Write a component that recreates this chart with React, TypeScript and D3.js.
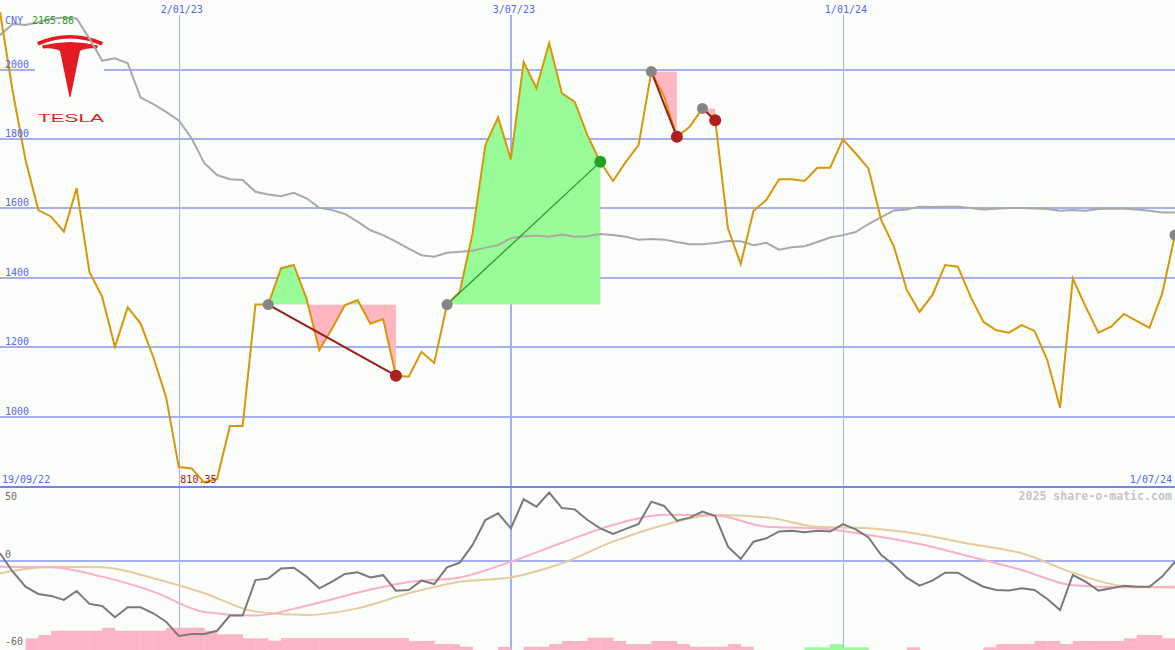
import React from "react";
import * as d3 from "d3";

const W = 1175;
const H = 650;
const startDate = new Date(2022, 8, 26);
const endDate = new Date(2024, 6, 1);

// weekly close, CNY
const price = [
  2165.86, 1936, 1739, 1595, 1576, 1533, 1658, 1417, 1345, 1201,
  1315, 1269, 1172, 1057, 855, 851, 810.35, 821, 973, 973,
  1323, 1323, 1427, 1437, 1340, 1192, 1254, 1321, 1336, 1268,
  1281, 1118, 1115, 1187, 1155, 1323, 1360, 1528, 1782, 1862,
  1741, 2022, 1946, 2077, 1931, 1907, 1810, 1734, 1679, 1734,
  1782, 1994, 1922, 1806, 1835, 1888, 1854, 1542, 1440, 1593,
  1624, 1684, 1684, 1679, 1717, 1717, 1799, 1758, 1715, 1566,
  1489, 1365, 1302, 1350, 1437, 1432, 1345, 1273, 1249, 1242,
  1264, 1247, 1163, 1026, 1398, 1317, 1242, 1259, 1296, 1276,
  1256, 1355, 1523,
];

// moving average
const avg = [
  2099, 2131, 2128, 2136, 2146, 2150, 2147, 2089, 2025, 2032,
  2018, 1920, 1900, 1878, 1853, 1802, 1730, 1696, 1684, 1682,
  1648, 1640, 1635, 1645, 1629, 1602, 1595, 1584, 1562, 1537,
  1523, 1504, 1484, 1465, 1461, 1472, 1475, 1478, 1487, 1494,
  1514, 1520, 1522, 1518, 1525, 1518, 1520, 1526, 1523, 1518,
  1510, 1512, 1510, 1503, 1497, 1497, 1500, 1506, 1505, 1494,
  1501, 1481, 1488, 1491, 1503, 1516, 1523, 1532, 1555, 1575,
  1594, 1597, 1605, 1604, 1605, 1605, 1601, 1597, 1599, 1601,
  1601, 1600, 1598, 1593, 1595, 1593, 1598, 1599, 1599, 1597,
  1593, 1588, 1588,
];

// lower panel oscillator (weekly)
const osc = [
  5.3, -7.2, -17.3, -22.2, -23.5, -26.2, -20.2, -28.9, -30.3, -37.9,
  -31.2, -31.2, -35.2, -40.9, -50.5, -49.2, -49.2, -47, -36.8, -36.8,
  -12.8, -11.7, -5, -4.5, -10.5, -18.4, -13.9, -8.7, -7.6, -11,
  -9.5, -20, -19.5, -13.2, -15.5, -4.2, -1, 10.9, 27.7, 32.2,
  22.1, 41.7, 36.7, 46.2, 35.8, 34.9, 27.7, 22.1, 18.3, 21.7,
  25, 40.1, 37.2, 27.3, 29.3, 33.4, 30.4, 9.7, 1.4, 13.1,
  15.4, 20, 20.5, 19.4, 20.5, 19.9, 25, 21.4, 16, 4.1,
  -2.6, -11.2, -16.6, -13.2, -7.8, -7.8, -12.8, -17.3, -19.5, -19.9,
  -18.4, -19.5, -25.6, -33, -9.4, -13.9, -19.9, -18.4, -16.6, -17.3,
  -17.3, -10.5, -0.4,
];

// smoothed signal lines, sampled every 4 weeks
const pinkSignal = [
  -3.8, -4.2, -10.5, -20.6, -34.3, -36.8, -30.1, -21.3, -14.1, -11,
  -0.4, 12.4, 24.4, 31.3, 30.9, 23.2, 22.1, 17.6, 11.5, 3,
  -6, -16.3, -17.7, -17.3,
];
const tanSignal = [
  -8.2, -3.8, -4.2, -11.6, -21.7, -34.1, -36.4, -31.9, -21.7, -13.9,
  -11, -1.5, 13.1, 24.4, 31.1, 29.5, 23.2, 22.1, 18.1, 11.5,
  5.3, -7.8, -16.8, -17.9,
];

// histogram (negative = pink, positive = green)
const hist = [
  0, 0, -7.9, -10.1, -13, -13, -13, -13, -15, -13,
  -13, -13, -13, -15, -15, -15, -13, -10.6, -10.6, -7.9,
  -7.9, -6.3, -8, -8, -8, -8, -8, -8, -8, -8,
  -8, -8, -6.1, -6.1, -4, -4, -2.2, 0, 0, -2.2,
  0, -2.2, -2.2, -4, -6.1, -6.1, -8.3, -8.3, -6.1, -4,
  -4, -6.1, -6.1, -4, -2.2, -2.2, -2.2, -4, -2.2, 0,
  0, 0, 0, 1.8, 1.8, 4, 1.8, 1.8, 0, 0,
  0, -1.8, 0, 0, 0, 0, 0, -1.8, -4, -4,
  -4, -6.1, -6.1, -4, -6.1, -6.1, -6.1, -6.1, -7.9, -10.1,
  -10.1, -7.9, 0,
];

const tickDates = [new Date(2023, 0, 2), new Date(2023, 6, 3), new Date(2024, 0, 1)];
const tickLabels = ["2/01/23", "3/07/23", "1/01/24"];
const priceTicks = [1000, 1200, 1400, 1600, 1800, 2000];
const oscTicks = [50, 0, -60];

const tradeEntry = [21, 35, 51, 55];
const tradeExit = [31, 47, 53, 56];
const openEntry = [92];

const BG = "#fbfdfb";
const GRID = "#a6b0f0";
const BLUE = "#5468f0";
const RED = "#e31b23";
const FONT = "'DejaVu Sans Mono', monospace";

export default function App() {
  const weekDates = price.map((_, i) => d3.timeDay.offset(startDate, 7 * i));
  const sigDates = pinkSignal.map((_, k) => d3.timeDay.offset(startDate, 28 * k));

  const x = d3.scaleTime().domain([startDate, endDate]).range([0, W]);
  const yP = d3.scaleLinear().domain([1000, 2000]).range([416.7, 69.5]);
  const yO = d3.scaleLinear().domain([-60, 50]).range([650, 487]);

  const priceLine = d3
    .line<number>()
    .x((_, i) => x(weekDates[i]))
    .y((d) => yP(d));
  const oscLine = d3
    .line<number>()
    .x((_, i) => x(weekDates[i]))
    .y((d) => yO(d));
  const sigLine = d3
    .line<number>()
    .x((_, k) => x(sigDates[k]))
    .y((d) => yO(d))
    .curve(d3.curveMonotoneX);

  const barW = x(weekDates[1]) - x(weekDates[0]);
  const unitPx = (yO(-60) - yO(50)) / 110;
  const minIdx = d3.minIndex(price);
  const maxVal = d3.max(price) as number;

  return (
    <svg
      width={W}
      height={H}
      style={{ position: "absolute", left: 0, top: 0, display: "block" }}
    >
      <defs>
        {tradeEntry.map((a, k) => {
          const yb = yP(price[a]);
          return (
            <React.Fragment key={k}>
              <clipPath id={`up${k}`}>
                <rect x={0} y={0} width={W} height={yb} />
              </clipPath>
              <clipPath id={`dn${k}`}>
                <rect x={0} y={yb} width={W} height={487 - yb} />
              </clipPath>
            </React.Fragment>
          );
        })}
        <clipPath id="topPanel">
          <rect x={0} y={0} width={W} height={486} />
        </clipPath>
      </defs>
      <rect x={0} y={0} width={W} height={H} fill={BG} />

      {/* vertical grid */}
      {tickDates.map((d, i) => {
        const xv = x(d);
        const wide = i === 1;
        const xx = wide ? Math.round(xv) : Math.round(xv) + 0.5;
        return (
          <g key={i}>
            <line x1={xx} x2={xx} y1={15} y2={H} stroke={GRID} strokeWidth={wide ? 2 : 1} />
            <text
              x={xv + 3}
              y={13}
              textAnchor="middle"
              fontFamily={FONT}
              fontSize={10}
              fill={BLUE}
            >
              {tickLabels[i]}
            </text>
          </g>
        );
      })}

      {/* horizontal price grid */}
      {priceTicks.map((v) => {
        const yy = Math.round(yP(v));
        return (
          <line key={v} x1={0} x2={W} y1={yy} y2={yy} stroke={GRID} strokeWidth={2} />
        );
      })}

      {/* logo */}
      <g>
        <rect x={35} y={28} width={69} height={100} fill={BG} />
        <path d="M37,42 Q70,28 103,42 L101.5,45.5 Q70,31.5 38.5,45.5 Z" fill={RED} />
        <path
          d="M42,45.5 Q70,38.5 98,45.5 L97,48.5 Q86,47.5 80,51 L70.5,97 L69.5,97 L60,51 Q54,47.5 43,48.5 Z"
          fill={RED}
        />
        <text
          x={38}
          y={122}
          fontFamily="'Liberation Sans', sans-serif"
          fontSize={10.5}
          textLength={66}
          lengthAdjust="spacingAndGlyphs"
          fill={RED}
        >
          TESLA
        </text>
      </g>

      {/* trade fills */}
      <g clipPath="url(#topPanel)">
        {tradeEntry.map((a, k) => {
          const b = tradeExit[k];
          const idx = d3.range(a, b + 1);
          const base = price[a];
          const area = d3
            .area<number>()
            .x((i) => x(weekDates[i]))
            .y0(yP(base))
            .y1((i) => yP(price[i]));
          const dPath = area(idx) || "";
          return (
            <g key={k}>
              <path d={dPath} fill="#98fb98" clipPath={`url(#up${k})`} />
              <path d={dPath} fill="#ffb6c1" clipPath={`url(#dn${k})`} />
            </g>
          );
        })}

        {/* moving average */}
        <path d={priceLine(avg) || ""} fill="none" stroke="#a9a9a9" strokeWidth={2} />
        {/* price */}
        <path
          d={priceLine(price) || ""}
          fill="none"
          stroke="#d9960a"
          strokeWidth={2}
          strokeLinejoin="miter"
        />

        {/* trade lines */}
        {tradeEntry.map((a, k) => {
          const b = tradeExit[k];
          const win = price[b] > price[a];
          return (
            <line
              key={k}
              x1={x(weekDates[a])}
              y1={yP(price[a])}
              x2={x(weekDates[b])}
              y2={yP(price[b])}
              stroke={win ? "#2a9a2a" : "#9b1c1c"}
              strokeWidth={win ? 1.3 : 2}
            />
          );
        })}

        {/* markers */}
        {tradeEntry.map((a, k) => (
          <circle key={`e${k}`} cx={x(weekDates[a])} cy={yP(price[a])} r={5.5} fill="#858585" />
        ))}
        {openEntry.map((a, k) => (
          <circle key={`o${k}`} cx={x(weekDates[a])} cy={yP(price[a])} r={5.5} fill="#858585" />
        ))}
        {tradeExit.map((b, k) => {
          const win = price[b] > price[tradeEntry[k]];
          return (
            <circle
              key={`x${k}`}
              cx={x(weekDates[b])}
              cy={yP(price[b])}
              r={6}
              fill={win ? "#22a022" : "#b01e1e"}
            />
          );
        })}
      </g>

      {/* price labels */}
      {priceTicks.map((v) => (
        <text
          key={v}
          x={5}
          y={Math.round(yP(v)) - 2}
          fontFamily={FONT}
          fontSize={10}
          fill={BLUE}
        >
          {v}
        </text>
      ))}
      <text x={5} y={24} fontFamily={FONT} fontSize={10} fill={BLUE}>
        CNY
      </text>
      <text x={32} y={24} fontFamily={FONT} fontSize={10} fill="#2a9a2a">
        {maxVal.toFixed(2)}
      </text>
      <text x={2} y={483} fontFamily={FONT} fontSize={10} fill={BLUE}>
        19/09/22
      </text>
      <text
        x={x(weekDates[minIdx]) - 24}
        y={483}
        fontFamily={FONT}
        fontSize={10}
        fill="#a01818"
      >
        {price[minIdx].toFixed(2)}
      </text>
      <text x={1172} y={483} textAnchor="end" fontFamily={FONT} fontSize={10} fill={BLUE}>
        1/07/24
      </text>

      {/* lower panel */}
      <line x1={0} x2={W} y1={487} y2={487} stroke="#7484e8" strokeWidth={2} />
      <line
        x1={0}
        x2={W}
        y1={Math.round(yO(0))}
        y2={Math.round(yO(0))}
        stroke={GRID}
        strokeWidth={2}
      />
      {hist.map((v, i) =>
        v === 0 ? null : (
          <rect
            key={i}
            x={x(weekDates[i])}
            y={yO(-60) - Math.abs(v) * unitPx}
            width={barW + 0.3}
            height={Math.abs(v) * unitPx}
            fill={v < 0 ? "#fbb4c8" : "#98fb98"}
          />
        )
      )}
      <path d={sigLine(tanSignal) || ""} fill="none" stroke="#e6cc9c" strokeWidth={2} />
      <path d={sigLine(pinkSignal) || ""} fill="none" stroke="#fcb0c8" strokeWidth={2} />
      <path d={oscLine(osc) || ""} fill="none" stroke="#7a7a7a" strokeWidth={2} />

      {oscTicks.map((v) => (
        <text
          key={v}
          x={5}
          y={Math.min(645, Math.max(500, yO(v) - 3))}
          fontFamily={FONT}
          fontSize={10}
          fill="#6c6c6c"
        >
          {v}
        </text>
      ))}
      <text
        x={1172}
        y={500}
        textAnchor="end"
        fontFamily={FONT}
        fontSize={11.6}
        fontWeight="bold"
        fill="#c6c6c6"
      >
        2025 share-o-matic.com
      </text>
    </svg>
  );
}
